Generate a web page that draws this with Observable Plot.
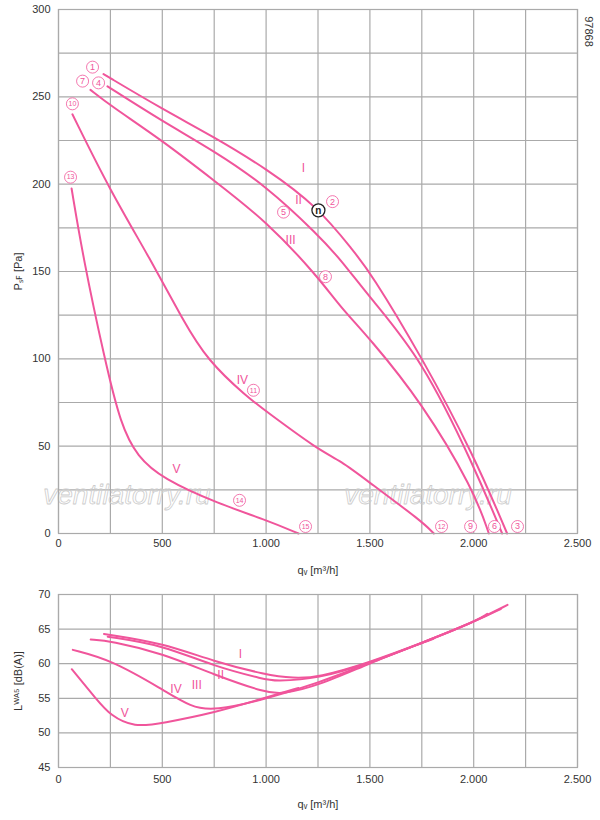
<!DOCTYPE html>
<html><head><meta charset="utf-8">
<script src="https://cdn.jsdelivr.net/npm/d3@7"></script>
<script src="https://cdn.jsdelivr.net/npm/@observablehq/plot@0.6"></script>
<style>body{margin:0;background:#fff;font-family:Arial,"Liberation Sans",sans-serif}#c svg{display:block}</style>
</head><body><div id="c"></div>
<script>
const pink = "#f0559b";
// Pressure curves [q, P]
const pI = [[217,263],[500,243],[750,227],[1000,209],[1250,187],[1422,161.5],[1500,150],[1750,101],[2000,45],[2161,0]];
const pII = [[236,256],[500,236],[750,219],[1000,199],[1250,171],[1358,157],[1500,135],[1750,100],[2000,39],[2137,0]];
const pIII = [[154,254],[250,245],[500,225],[750,202],[1000,179],[1250,147],[1358,129.6],[1500,111.6],[1750,75],[2000,25],[2073,0]];
const pIV = [[67,240],[250,196],[443,157],[600,122],[718,99],[910,78],[1000,70],[1250,48],[1358,41.8],[1500,29],[1750,7],[1808,0]];
const pV = [[63,197.5],[120,157],[222,100],[300,62],[380,44],[500,31.5],[771,17],[1007,7.5],[1156,0]];
// Sound curves [q, L]
const lI = [[219,64.3],[500,63.0],[750,60.3],[1000,58.4],[1131,57.9],[1250,58.0],[1500,60.2],[1750,63.0],[2000,66.0],[2163,68.5]];
const lII = [[237,63.9],[500,62.7],[750,59.6],[1000,57.7],[1040,57.5],[1250,57.8],[1500,60.1],[1750,63.0],[2000,66.0],[2130,67.9]];
const lIII = [[155,63.5],[250,63.3],[500,61.5],[750,58.4],[1000,55.8],[1077,55.6],[1250,56.8],[1500,60.1],[1750,63.0],[2000,66.0],[2065,67.2]];
const lIV = [[69,62.0],[250,60.6],[500,56.3],[640,53.7],[750,53.2],[1000,54.9],[1250,57.2],[1500,60.1],[1750,63.0],[1806,63.6]];
const lV = [[64,59.2],[182,54.9],[250,52.5],[365,50.8],[500,51.4],[750,52.9],[1000,55.1],[1156,56.5]];
const curveNames = ["I","II","III","IV","V"];
const pLabels = [[1180,209],[1156,191],[1118,168],[886,88],[568,37]];
const lLabels = [[876,61.4],[781,58.3],[666,56.9],[566,56.3],[319,52.8]];
const circNums = ["1","7","4","10","13","2","5","8","11","14","15","12","9","6","3"];
const circPos = [[164,267],[116,259],[193,258],[67,246],[58,204],[1320,190],[1084,184],[1286,147],[939,82],[872,19],[1190,4],[1845,4],[1985,4],[2100,4],[2211,4]];
const xTicks = [0,500,1000,1500,2000,2500];
const xGrid = d3.range(0,2501,250);
const fmt = d => d===0 ? "0" : d3.format(",")(d).replace(",",".");

const toRows = (arrs, names) => arrs.flatMap((a,i)=>a.map(([x,y])=>({x,y,s:names[i]})));
const gridStyle = {stroke:"#aaa", strokeOpacity:1, strokeWidth:1.2};
const st = {fontSize:"11px", fontFamily:"Arial, Liberation Sans, sans-serif", color:"#333"};

const chartTop = Plot.plot({
  width:600, height:585, marginTop:9, marginLeft:58, marginRight:23, marginBottom:52, style:st,
  x:{domain:[0,2500], ticks:xTicks, tickFormat:fmt, label:"qᵥ [m³/h]", labelArrow:false, labelAnchor:"center", labelOffset:40, tickSize:0, tickPadding:6},
  y:{domain:[0,300], ticks:d3.range(0,301,50), label:"Pₛꜰ [Pa]", labelArrow:false, labelAnchor:"center", labelOffset:44, tickSize:0, tickPadding:8},
  marks:[
    Plot.ruleX(xGrid, gridStyle),
    Plot.ruleY(d3.range(0,301,25), gridStyle),
    Plot.text(["ventilatorry.ru"],{x:[330],y:[22],fontSize:28,fontStyle:"italic",fill:"none",stroke:"#ccc",strokeWidth:0.8}),
    Plot.text(["ventilatorry.ru"],{x:[1780],y:[22],fontSize:28,fontStyle:"italic",fill:"none",stroke:"#ccc",strokeWidth:0.8}),
    Plot.line(toRows([pI,pII,pIII,pIV,pV],curveNames),{x:"x",y:"y",z:"s",stroke:pink,strokeWidth:2,curve:"basis"}),
    Plot.text(curveNames,{x:(d,i)=>pLabels[i][0],y:(d,i)=>pLabels[i][1],fill:pink,fontSize:12}),
    Plot.dot(circNums,{x:(d,i)=>circPos[i][0],y:(d,i)=>circPos[i][1],r:6,stroke:pink,fill:"white",strokeWidth:0.8}),
    Plot.text(circNums,{x:(d,i)=>circPos[i][0],y:(d,i)=>circPos[i][1],fill:pink,fontSize:d=>d.length>1?7:9}),
    Plot.dot([0],{x:[1252],y:[185],r:6.5,stroke:"#222",fill:"white",strokeWidth:1.3}),
    Plot.text(["n"],{x:[1252],y:[185],fill:"#222",fontSize:10,fontWeight:"bold"}),
    Plot.frame({stroke:"#aaa",strokeWidth:1.2}),
    Plot.text(["97868"],{x:[2500],y:[300],dx:11,dy:22,rotate:90,fontSize:11,fill:"#333"})
  ]
});
const chartBot = Plot.plot({
  width:600, height:235, marginTop:9, marginLeft:58, marginRight:23, marginBottom:53, style:st,
  x:{domain:[0,2500], ticks:xTicks, tickFormat:fmt, label:"qᵥ [m³/h]", labelArrow:false, labelAnchor:"center", labelOffset:40, tickSize:0, tickPadding:8},
  y:{domain:[45,70], ticks:d3.range(45,71,5), label:"Lᵂᴬ⁵ [dB(A)]", labelArrow:false, labelAnchor:"center", labelOffset:44, tickSize:0, tickPadding:8},
  marks:[
    Plot.ruleX(xGrid, gridStyle),
    Plot.ruleY(d3.range(45,71,5), gridStyle),
    Plot.line(toRows([lI,lII,lIII,lIV,lV],curveNames),{x:"x",y:"y",z:"s",stroke:pink,strokeWidth:2,curve:"basis"}),
    Plot.text(curveNames,{x:(d,i)=>lLabels[i][0],y:(d,i)=>lLabels[i][1],fill:pink,fontSize:12}),
    Plot.frame({stroke:"#aaa",strokeWidth:1.2})
  ]
});
document.getElementById("c").append(chartTop, chartBot);
</script></body></html>
